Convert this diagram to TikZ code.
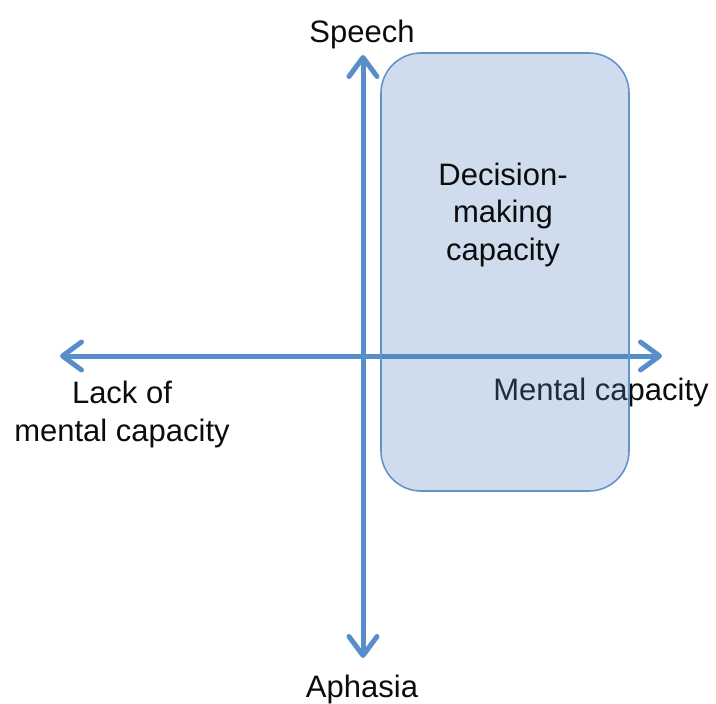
\documentclass[tikz,border=0pt]{standalone}
\usepackage{fontspec}
\setmainfont{Liberation Sans}
\usetikzlibrary{arrows.meta}
\definecolor{axisblue}{RGB}{88,142,201}
\definecolor{boxfill}{RGB}{79,129,189}
\definecolor{boxedge}{RGB}{98,148,204}
\definecolor{ink}{RGB}{12,12,12}
\begin{document}
\begin{tikzpicture}[x=1pt,y=-1pt,
  axis/.style={draw=axisblue,line width=5pt,
    {Straight Barb[length=19pt,width=28pt,round]}-{Straight Barb[length=19pt,width=28pt,round]}},
  lbl/.style={font=\fontsize{31}{37.5}\selectfont, text=ink, inner sep=0pt, align=center},
  dmbox/.style={draw=boxedge, line width=1.6pt, fill=boxfill, fill opacity=0.28,
    rounded corners=40pt, minimum width=248pt, minimum height=438pt, inner sep=0pt}]
\useasboundingbox (0,0) rectangle (716,704);
\coordinate (L) at (60,356);
\coordinate (R) at (662,356);
\coordinate (T) at (363,55);
\coordinate (B) at (363,658);
\draw[axis] (L) -- (R);
\draw[axis] (T) -- (B);
\node[lbl, anchor=base] (speech) at (362,42.5) {Speech};
\node[lbl, anchor=base] (aphasia) at (362,697.5) {Aphasia};
\node[lbl, anchor=base] (lack) at (122,441) {Lack of\\mental capacity};
\node[lbl, anchor=base] (mental) at (601,400) {Mental capacity};
\node[dmbox] (box) at (505,272) {};
\node[lbl, anchor=base] (dm) at (503,260) {Decision-\\making\\capacity};
\end{tikzpicture}
\end{document}
